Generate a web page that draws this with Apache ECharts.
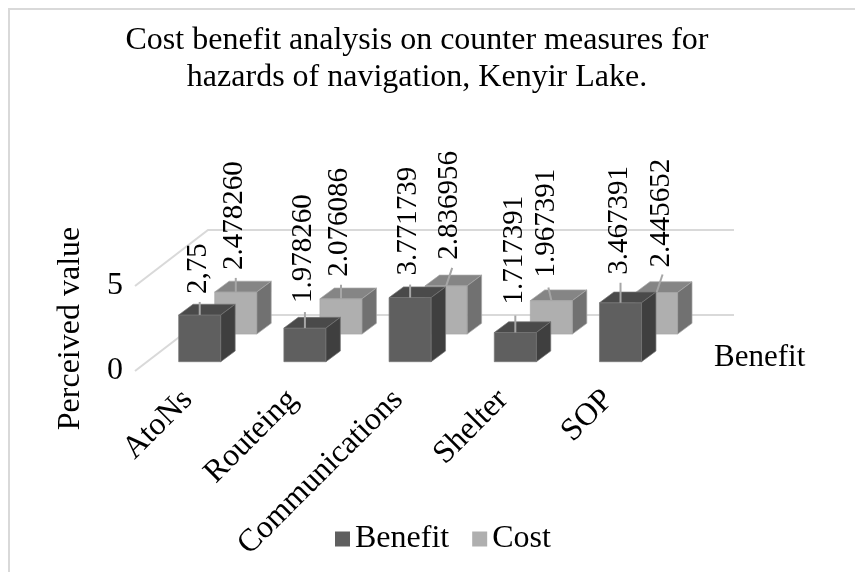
<!DOCTYPE html>
<html><head><meta charset="utf-8">
<style>html,body{margin:0;padding:0;background:#fff}#c{width:855px;height:572px}</style>
<script src="https://cdn.jsdelivr.net/npm/echarts@6/dist/echarts.min.js"></script>
</head><body><div id="c"></div>
<script>
const categories = ['AtoNs','Routeing','Communications','Shelter','SOP'];
const benefit = [2.75,1.97826,3.771739,1.717391,3.467391];
const cost = [2.47826,2.076086,2.836956,1.967391,2.445652];
const benefitLabels = ['2,75','1.978260','3.771739','1.717391','3.467391'];
const costLabels = ['2.478260','2.076086','2.836956','1.967391','2.445652'];
const yTicks = [0,5];
// label placement relative to the top of each bar: [dx to leader end, leader end rise, label centre dx, label bottom rise]
const benefitLead = [[0,13,-1.5,21],[0,16,-1.5,25],[0,13,-1.5,22],[0,17,-0.5,28],[0,20,-1.5,28]];
const costLead = [[0,14,-1.5,22],[0,14,-1.5,22],[6,18,3.5,26],[-3,13,-4.5,23],[6,18,4.5,25]];

const FONT = '"Liberation Serif","Times New Roman",serif';
const FS = 32, FS_LABEL = 29;
const DEPTH = {x:73,y:-56};
const BAR_W = 0.4, SIDE = {x:14.4,y:-10.7};

function prism(lane, pal, labels, lead){
  return function(params, a){
    const i = a.value(0), v = a.value(1);
    const base = a.coord([i,0]), top = a.coord([i,v]);
    const band = a.size([1,0])[0];
    const w = band*BAR_W;
    const dx = DEPTH.x*lane, dy = DEPTH.y*lane;
    const x0 = base[0]+dx-w/2, x1 = x0+w, yb = base[1]+dy, yt = top[1]+dy;
    const sx = SIDE.x, sy = SIDE.y;
    const poly = (pts,c)=>({type:'polygon',shape:{points:pts},style:{fill:c,stroke:pal.edge,lineWidth:0.7}});
    const cx = (x0+x1)/2, L = lead[i];
    return {type:'group',children:[
      poly([[x0,yb],[x1,yb],[x1,yt],[x0,yt]],pal.front),
      poly([[x0,yt],[x1,yt],[x1+sx,yt+sy],[x0+sx,yt+sy]],pal.top),
      poly([[x1,yb],[x1+sx,yb+sy],[x1+sx,yt+sy],[x1,yt]],pal.side),
      {type:'line',shape:{x1:cx,y1:yt,x2:cx+L[0],y2:yt-L[1]},style:{stroke:'#a6a6a6',lineWidth:2}},
      {type:'text',x:cx+L[2],y:yt-L[3],rotation:Math.PI/2,
       style:{text:labels[i],font:FS_LABEL+'px '+FONT,fill:'#000',textAlign:'left',textVerticalAlign:'middle'}}
    ]};
  };
}
const benefitPal = {front:'#5f5f5f',top:'#4a4a4a',side:'#3f3f3f',edge:'#777777'};
const costPal = {front:'#afafaf',top:'#858585',side:'#717171',edge:'#a8a8a8'};

const chart = echarts.init(document.getElementById('c'),null,{renderer:'canvas'});
chart.setOption({
  animation:false,
  backgroundColor:'#fff',
  title:{text:'Cost benefit analysis on counter measures for\nhazards of navigation, Kenyir Lake.',left:412,top:17,textAlign:'center',
    textStyle:{fontFamily:FONT,fontSize:FS,fontWeight:'normal',color:'#000',lineHeight:37}},
  legend:{data:['Benefit','Cost'],left:330,top:518,itemWidth:15,itemHeight:15,itemGap:23,icon:'rect',
    textStyle:{fontFamily:FONT,fontSize:FS,color:'#000'}},
  grid:{left:135,top:286,width:526,height:85},
  xAxis:{type:'category',data:categories,axisLine:{show:false},axisTick:{show:false},splitLine:{show:false},
    axisLabel:{interval:0,rotate:45,margin:24,fontFamily:FONT,fontSize:FS,color:'#000'}},
  yAxis:{type:'value',min:yTicks[0],max:yTicks[1],interval:yTicks[1],axisLine:{show:false},axisTick:{show:false},splitLine:{show:false},
    name:'Perceived value',nameLocation:'middle',nameGap:48,nameTextStyle:{fontFamily:FONT,fontSize:FS,color:'#000'},
    axisLabel:{margin:12,fontFamily:FONT,fontSize:FS,color:'#000',padding:[0,0,6,0]}},
  graphic:[
    {type:'polyline',shape:{points:[[9,572],[9,9],[855,9]]},style:{fill:'none',stroke:'#d9d9d9',lineWidth:2},silent:true},
    {type:'text',left:714,top:342,style:{text:'Benefit',font:'31px '+FONT,fill:'#000'}}
  ],
  series:[
    {name:'wall',type:'custom',silent:true,z:1,data:yTicks.map(v=>[0,v]),
     renderItem:(p,a)=>{const cs=p.coordSys,y=a.coord([0,a.value(1)])[1];
       return {type:'polyline',shape:{points:[[cs.x,y],[cs.x+DEPTH.x,y+DEPTH.y],[cs.x+DEPTH.x+cs.width,y+DEPTH.y]]},style:{fill:'none',stroke:'#d9d9d9',lineWidth:2}};}},
    {name:'Cost',type:'custom',z:2,itemStyle:{color:'#afafaf'},data:cost.map((v,i)=>[i,v]),encode:{x:0,y:1},
     renderItem:prism(0.66,costPal,costLabels,costLead)},
    {name:'Benefit',type:'custom',z:3,itemStyle:{color:'#5f5f5f'},data:benefit.map((v,i)=>[i,v]),encode:{x:0,y:1},
     renderItem:prism(0.166,benefitPal,benefitLabels,benefitLead)}
  ]
});
</script></body></html>
